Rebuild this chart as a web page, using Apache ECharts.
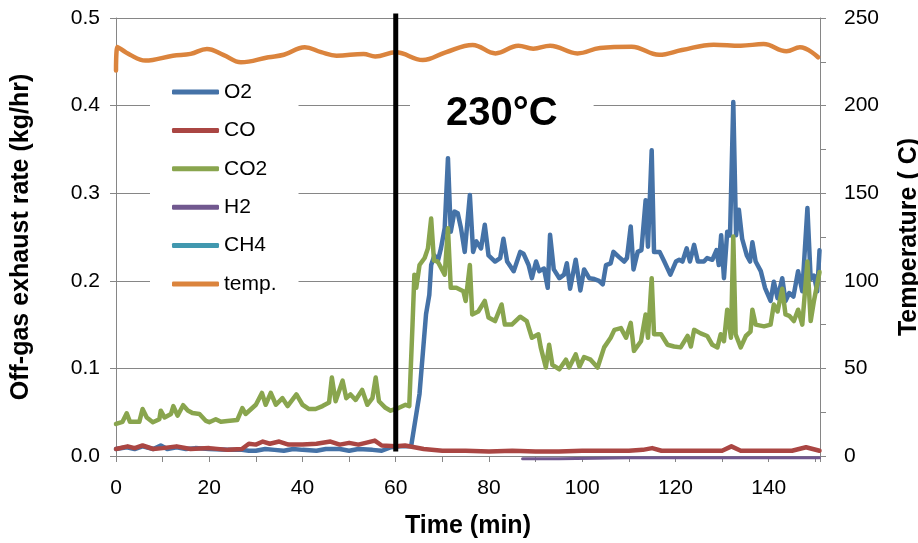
<!DOCTYPE html>
<html>
<head>
<meta charset="utf-8">
<script src="https://cdn.jsdelivr.net/npm/echarts@6/dist/echarts.min.js"></script>
<style>
html,body{margin:0;padding:0;background:#fff;}
#chart{width:918px;height:543px;}
</style>
</head>
<body>
<div id="chart"></div>
<script>
// ---- data (time in min, rate in kg/hr, temperature in °C) ----
const seriesNames = ['O2', 'CO', 'CO2', 'H2', 'CH4', 'temp.'];
const seriesColors = ['#4572A7', '#AA4643', '#89A54E', '#71588F', '#4198AF', '#DB843D'];

const o2 = [[0,0.008],[2.3,0.010],[4,0.008],[5.7,0.011],[8,0.008],[9.6,0.012],[11,0.008],[13,0.010],[15,0.008],[17,0.009],[20,0.008],[24,0.007],[27,0.007],[28.5,0.006],[30,0.006],[32,0.008],[34,0.007],[36,0.006],[38,0.008],[40,0.007],[43,0.006],[45,0.008],[48,0.008],[50,0.006],[52,0.008],[55,0.007],[57,0.006],[59,0.010],[61,0.011],[63.3,0.011],[65.1,0.071],[66.5,0.162],[67.2,0.184],[67.6,0.218],[68.3,0.229],[69,0.222],[69.7,0.237],[70.5,0.26],[71.2,0.340],[71.8,0.256],[72.6,0.279],[73.3,0.277],[74,0.26],[74.8,0.233],[75.9,0.298],[76.6,0.233],[77.3,0.245],[78.3,0.237],[79.1,0.264],[79.9,0.229],[81.3,0.222],[82.4,0.226],[83.1,0.248],[83.9,0.222],[85.3,0.211],[86.7,0.233],[87.4,0.231],[88.5,0.218],[89.2,0.203],[90.1,0.222],[90.8,0.211],[91.8,0.214],[92.6,0.192],[93.1,0.2525],[93.9,0.213],[95.1,0.203],[96.1,0.207],[96.7,0.220],[97.4,0.191],[98.6,0.224],[99.6,0.189],[100.4,0.213],[101.5,0.203],[102.6,0.202],[103.6,0.200],[104.4,0.196],[105.1,0.218],[106.1,0.220],[106.7,0.233],[107.9,0.227],[109,0.222],[109.6,0.226],[110.4,0.262],[111,0.213],[111.9,0.233],[112.7,0.235],[113.6,0.292],[114.1,0.239],[114.9,0.349],[115.4,0.233],[116.6,0.233],[117.6,0.222],[118.9,0.207],[120.1,0.222],[120.8,0.224],[121.5,0.222],[122.4,0.237],[123.1,0.222],[124,0.241],[124.8,0.222],[126.1,0.222],[126.8,0.226],[127.9,0.224],[128.8,0.235],[129.3,0.218],[129.8,0.252],[130.4,0.203],[131.1,0.256],[131.7,0.252],[132.4,0.404],[133,0.252],[133.6,0.281],[134.3,0.248],[135.3,0.229],[136,0.222],[136.5,0.244],[137.2,0.222],[138.3,0.211],[139.2,0.192],[140.4,0.177],[141.1,0.199],[141.9,0.180],[142.9,0.203],[143.6,0.177],[144.4,0.186],[145.3,0.182],[146.3,0.211],[147.2,0.188],[148.3,0.283],[149,0.202],[149.7,0.206],[150.4,0.188],[150.9,0.235]];

const co = [[0,0.008],[2.5,0.011],[4,0.009],[5.7,0.012],[8,0.008],[10,0.009],[13,0.011],[16,0.008],[20,0.009],[24,0.007],[27,0.008],[28.5,0.014],[30,0.013],[31.5,0.0165],[33,0.014],[35,0.0165],[37,0.013],[40,0.013],[43,0.014],[46,0.0165],[48,0.013],[50,0.015],[52,0.013],[55.5,0.0176],[57,0.012],[60,0.011],[62,0.012],[64,0.010],[66,0.008],[70,0.006],[75,0.006],[80,0.005],[85,0.006],[90,0.005],[95,0.005],[100,0.006],[105,0.006],[110,0.006],[113,0.007],[115,0.009],[117,0.006],[120,0.006],[125,0.006],[130,0.006],[132,0.011],[134,0.006],[140,0.006],[145,0.006],[148,0.010],[150.9,0.006]];

const co2 = [[0,0.0366],[1.4,0.039],[2.3,0.0487],[3,0.039],[5,0.039],[5.7,0.0536],[6.6,0.044],[7.9,0.0386],[9.3,0.042],[9.6,0.0517],[10.4,0.044],[11.8,0.048],[12.3,0.057],[13.2,0.046],[14.4,0.058],[15.4,0.052],[16.4,0.049],[17.9,0.048],[19.3,0.040],[20,0.0386],[21.4,0.042],[22.5,0.039],[23.9,0.040],[26,0.041],[27.1,0.0547],[27.8,0.048],[30,0.0585],[31.3,0.072],[32.1,0.0585],[33.2,0.072],[34.3,0.0585],[35.7,0.066],[36.8,0.057],[38.7,0.0703],[40,0.0585],[41.4,0.0536],[42.8,0.0536],[44.3,0.057],[45.7,0.061],[46.3,0.0896],[47.1,0.0625],[48.6,0.086],[49.4,0.066],[50.3,0.0703],[51.4,0.064],[52.8,0.0755],[53.9,0.0585],[55,0.066],[55.7,0.0896],[56.4,0.0625],[57.8,0.055],[58.9,0.0517],[60.7,0.055],[62.1,0.0585],[62.9,0.057],[63.6,0.15],[64,0.207],[64.4,0.192],[65.1,0.218],[66.2,0.226],[66.9,0.237],[67.6,0.271],[68.2,0.223],[69,0.222],[70.5,0.207],[71.2,0.26],[71.8,0.192],[73,0.192],[74.5,0.188],[75,0.177],[75.9,0.218],[76.4,0.1616],[77.7,0.165],[79.1,0.177],[79.9,0.158],[81.3,0.154],[82.7,0.173],[83.4,0.150],[84.9,0.150],[86.7,0.159],[88.1,0.154],[89.2,0.135],[90.6,0.139],[91.1,0.124],[92.2,0.101],[92.9,0.127],[93.6,0.104],[95.1,0.099],[96.5,0.110],[97.2,0.101],[98.6,0.116],[99.4,0.102],[100.4,0.113],[101.8,0.110],[103.3,0.101],[104.7,0.124],[106.1,0.135],[106.9,0.144],[108.3,0.146],[109.4,0.135],[110.4,0.152],[111.1,0.120],[112.6,0.131],[113.6,0.1616],[114.1,0.135],[114.9,0.203],[115.4,0.139],[116.9,0.139],[118.3,0.127],[119.7,0.125],[121.1,0.124],[122.6,0.137],[123.3,0.125],[124,0.144],[125.4,0.140],[126.8,0.137],[127.9,0.127],[129,0.124],[129.7,0.139],[130.4,0.131],[131.1,0.167],[131.9,0.135],[132.4,0.2506],[132.9,0.139],[134,0.124],[135.1,0.137],[136.1,0.142],[136.5,0.167],[137.2,0.150],[139,0.148],[140.4,0.150],[141.1,0.173],[141.9,0.165],[142.9,0.191],[143.6,0.1616],[144.4,0.160],[145.4,0.154],[146.3,0.167],[147.2,0.150],[148.3,0.222],[149,0.154],[149.7,0.177],[150.9,0.21]];

const h2 = [[87.2,-0.003],[95,-0.003],[110,-0.002],[125,-0.002],[140,-0.002],[150.9,-0.002]];

const ch4 = [];

const temp = [[0,220],[0.3,233.5],[3,229],[6.3,225.7],[12.2,228.5],[16,229.5],[19.5,232.3],[23,229],[26.8,224.7],[32.7,227.6],[36,229],[40.5,233.3],[44,230.5],[47.3,228.5],[53.1,229.5],[55.6,228],[60,230.4],[65.8,226],[70.7,230.4],[76.5,234.6],[81.4,229.8],[86.3,234.2],[89.5,232.5],[93.1,234.2],[99,229.8],[103.8,232.9],[110.6,233.6],[116.5,229],[121.4,231.7],[128.2,234.8],[134,234.2],[138.9,235.1],[143.8,231],[146.7,233.3],[150.6,227.6]];

// vertical marker at the switch time
const markerLine = [[60, 0.005], [60, 0.505]];
const annotationText = '230°C';

const xTickLabels = [0, 20, 40, 60, 80, 100, 120, 140];
const leftTickLabels = [0.0, 0.1, 0.2, 0.3, 0.4, 0.5];
const rightTickLabels = [0, 50, 100, 150, 200, 250];

// ---- chart ----
const FONT = 'Liberation Sans, Arial, sans-serif';
const GRAY = '#868686';
const chart = echarts.init(document.getElementById('chart'), null, {renderer: 'canvas'});

const dataSets = [o2, co, co2, h2, ch4, temp];
const series = dataSets.map((d, i) => ({
  name: seriesNames[i],
  type: 'line',
  data: d,
  yAxisIndex: i === 5 ? 1 : 0,
  symbol: 'none',
  showSymbol: false,
  smooth: i === 5 ? 0.4 : false,
  clip: i !== 3,
  lineStyle: {width: i === 3 ? 3 : 4.5, color: seriesColors[i], cap: 'round', join: 'round'},
  itemStyle: {color: seriesColors[i]},
  z: 3 + i,
  silent: true,
  animation: false
}));
series.push({
  name: 'marker',
  type: 'line',
  data: markerLine,
  symbol: 'none',
  clip: false,
  lineStyle: {width: 5, color: '#000'},
  z: 20,
  silent: true,
  animation: false
});

chart.setOption({
  animation: false,
  backgroundColor: '#fff',
  grid: {left: 116, right: 98, top: 18, bottom: 87, containLabel: false, outerBoundsMode: 'none'},
  legend: {
    data: seriesNames.map((n, i) => ({name: n, itemStyle: {color: seriesColors[i]}})),
    orient: 'vertical',
    left: 150,
    top: 62,
    padding: [18, 22, 18, 22],
    icon: 'roundRect',
    itemWidth: 47,
    itemHeight: 5,
    itemGap: 14.4,
    backgroundColor: '#fff',
    textStyle: {fontFamily: FONT, fontSize: 21, lineHeight: 24, color: '#000'},
    selectedMode: false
  },
  xAxis: {
    type: 'value', min: 0, max: 151, interval: 10,
    name: 'Time (min)', nameLocation: 'middle', nameGap: 58,
    nameTextStyle: {fontFamily: FONT, fontSize: 25, fontWeight: 'bold', color: '#000'},
    axisLine: {show: true, lineStyle: {color: GRAY, width: 1}},
    axisTick: {show: true, length: 6, lineStyle: {color: GRAY}},
    splitLine: {show: false},
    axisLabel: {
      margin: 22, fontFamily: FONT, fontSize: 21, color: '#000',
      formatter: v => xTickLabels.includes(v) ? String(v) : ''
    }
  },
  yAxis: [{
    type: 'value', min: 0, max: 0.5, interval: 0.1,
    name: 'Off-gas exhaust rate (kg/hr)', nameLocation: 'middle', nameGap: 82, nameRotate: 90,
    nameTextStyle: {fontFamily: FONT, fontSize: 25, fontWeight: 'bold', color: '#000'},
    axisLine: {show: true, lineStyle: {color: GRAY, width: 1}},
    axisTick: {show: true, length: 6, lineStyle: {color: GRAY}},
    splitLine: {show: true, lineStyle: {color: GRAY, width: 1}},
    axisLabel: {
      margin: 16, fontFamily: FONT, fontSize: 21, color: '#000',
      formatter: v => {
        const hit = leftTickLabels.find(t => Math.abs(t - v) < 1e-9);
        return hit === undefined ? '' : hit.toFixed(1);
      }
    }
  }, {
    type: 'value', min: 0, max: 250, interval: 25, position: 'right',
    name: 'Temperature ( C)', nameLocation: 'middle', nameGap: 77, nameRotate: 90,
    nameTextStyle: {fontFamily: FONT, fontSize: 25, fontWeight: 'bold', color: '#000'},
    axisLine: {show: true, lineStyle: {color: GRAY, width: 1}},
    axisTick: {show: true, length: 6, lineStyle: {color: GRAY}},
    splitLine: {show: false},
    axisLabel: {
      margin: 24, fontFamily: FONT, fontSize: 21, color: '#000',
      formatter: v => rightTickLabels.includes(v) ? String(v) : ''
    }
  }],
  graphic: [{
    type: 'text',
    left: 410, top: 90,
    z: 10,
    style: {
      text: annotationText,
      font: 'bold 40px ' + FONT,
      fill: '#000',
      backgroundColor: '#fff',
      padding: [4, 36, 4, 36]
    }
  }],
  series: series
});
</script>
</body>
</html>
